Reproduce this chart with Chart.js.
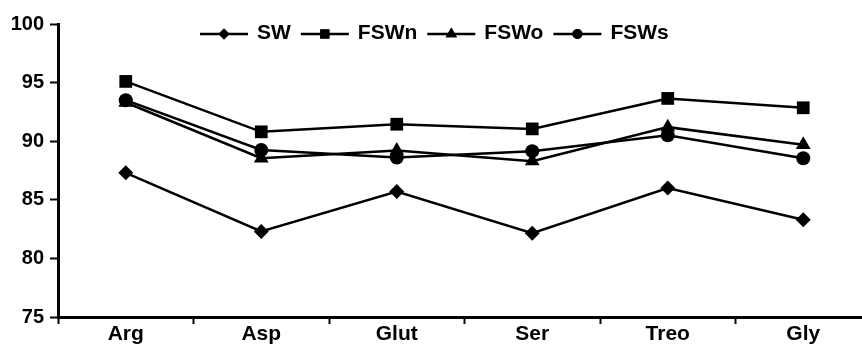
<!DOCTYPE html>
<html>
<head>
<meta charset="utf-8">
<script src="https://cdn.jsdelivr.net/npm/chart.js@4/dist/chart.umd.min.js"></script>
<style>
  html, body { margin: 0; padding: 0; background: #fff; overflow: hidden; }
  #wrap { width: 862px; height: 348px; overflow: hidden; position: relative; }
  canvas { display: block; }
</style>
</head>
<body>
<div id="wrap"><canvas id="c" width="880" height="348"></canvas></div>
<script>
const categories = ["Arg", "Asp", "Glut", "Ser", "Treo", "Gly"];
const seriesNames = ["SW", "FSWn", "FSWo", "FSWs"];
const SW   = [87.3, 82.3, 85.7, 82.15, 86.0, 83.3];
const FSWn = [95.1, 90.8, 91.45, 91.05, 93.65, 92.85];
const FSWo = [93.3, 88.55, 89.2, 88.3, 91.2, 89.7];
const FSWs = [93.5, 89.25, 88.6, 89.15, 90.5, 88.55];
const yTicks = [75, 80, 85, 90, 95, 100];

const FONT = '"Liberation Sans", Arial, Helvetica, sans-serif';
const markers = [
  { style: 'rectRot', radius: 7.5, legendRadius: 5.5 },
  { style: 'rect', radius: 9, legendRadius: 6.5 },
  { style: 'triangle', radius: 8.5, legendRadius: 6.5 },
  { style: 'circle', radius: 7, legendRadius: 5 }
];
const seriesValues = [SW, FSWn, FSWo, FSWs];

const datasets = seriesNames.map((name, i) => ({
  label: name,
  data: seriesValues[i],
  borderColor: '#000',
  backgroundColor: '#000',
  borderWidth: 2.5,
  pointStyle: markers[i].style,
  pointRadius: markers[i].radius,
  pointHoverRadius: markers[i].radius,
  pointBorderWidth: 0,
  tension: 0,
  fill: false
}));

const legendPlugin = {
  id: 'lineLegend',
  afterDraw(chart) {
    const ctx = chart.ctx;
    ctx.save();
    ctx.font = 'bold 21px ' + FONT;
    ctx.textBaseline = 'middle';
    ctx.fillStyle = '#000';
    ctx.strokeStyle = '#000';
    let x = 200;
    const y = 33;
    chart.data.datasets.forEach((ds, i) => {
      ctx.lineWidth = 2.5;
      ctx.beginPath();
      ctx.moveTo(x, y + 1);
      ctx.lineTo(x + 48, y + 1);
      ctx.stroke();
      Chart.helpers.drawPoint(ctx, {
        pointStyle: markers[i].style,
        radius: markers[i].legendRadius,
        borderWidth: 0,
        rotation: 0
      }, x + 24, y + 1);
      ctx.fill();
      x += 57;
      ctx.fillText(ds.label, x, y);
      x += ctx.measureText(ds.label).width + 10;
    });
    ctx.restore();
  }
};

new Chart(document.getElementById('c'), {
  type: 'line',
  data: { labels: categories, datasets },
  plugins: [legendPlugin],
  options: {
    responsive: false,
    animation: false,
    devicePixelRatio: 1,
    layout: { padding: { top: 24, right: 6, left: 0, bottom: 0 } },
    plugins: { legend: { display: false }, tooltip: { enabled: false } },
    scales: {
      x: {
        type: 'category',
        offset: true,
        afterFit(s) { s.height = 31; },
        grid: { offset: true, drawOnChartArea: false, drawTicks: true, tickLength: 7, tickWidth: 2, tickColor: '#000' },
        border: { display: true, color: '#000', width: 3 },
        ticks: { color: '#000', font: { family: FONT, size: 21, weight: 'bold' }, padding: -2, maxRotation: 0, autoSkip: false }
      },
      y: {
        min: 75,
        max: 100,
        afterFit(s) { s.width = 58; },
        afterBuildTicks(s) { s.ticks = yTicks.map(v => ({ value: v })); },
        grid: { drawOnChartArea: false, drawTicks: true, tickLength: 8, tickWidth: 2, tickColor: '#000' },
        border: { display: true, color: '#000', width: 3 },
        ticks: { color: '#000', font: { family: FONT, size: 20, weight: 'bold' }, padding: 6 }
      }
    }
  }
});
</script>
</body>
</html>
